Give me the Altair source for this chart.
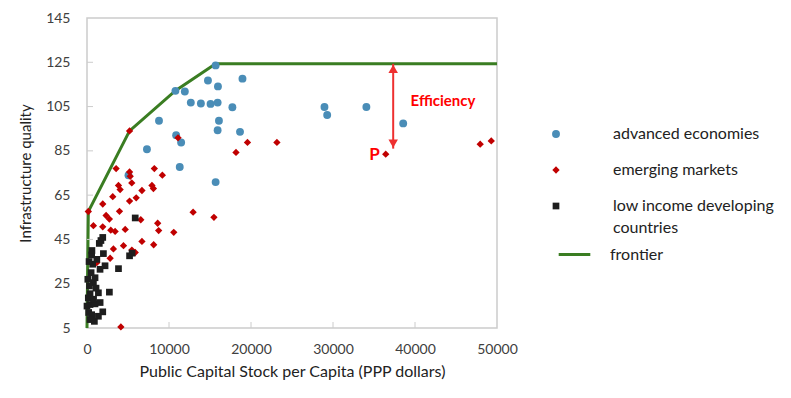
import altair as alt
import pandas as pd

# ---- data ----
adv_x = [15686, 18960, 14750, 15970, 10784, 11930, 12660, 13890, 15070, 15930, 17730, 8780,
         16090, 15930, 18660, 10870, 11480, 7310, 11310, 15686, 5060, 28960, 29290, 34070, 38560]
adv_y = [123.6, 117.6, 116.8, 114.1, 112.1, 111.8, 106.8, 106.4, 106.2, 106.8, 104.7, 98.6,
         98.6, 94.3, 93.6, 92.1, 88.8, 85.7, 77.7, 70.9, 74.0, 104.8, 101.2, 104.8, 97.4]

em_x = [5190, 11100, 19570, 23160, 18170, 36430, 47950, 49300, 3550, 5190, 8210, 9190, 5270,
        5460, 3840, 4040, 6700, 7920, 8100, 3140, 6000, 5190, 1920, 3960, 12940, 15480, 160,
        2330, 2730, 6560, 8620, 780, 1920, 2900, 3430, 4660, 8740, 10580, 6700, 8130, 3220,
        4450, 5470, 5880, 2820, 1190, 4130]
em_y = [94.0, 90.9, 88.8, 88.8, 84.3, 83.5, 88.0, 89.5, 77.0, 75.5, 77.0, 74.0, 73.5,
        70.5, 69.4, 67.5, 67.1, 69.4, 68.0, 64.3, 63.8, 62.3, 61.0, 57.7, 57.3, 55.0, 57.6,
        55.8, 54.2, 53.9, 52.3, 51.2, 50.7, 49.2, 48.6, 49.5, 49.0, 48.2, 44.1, 42.6, 40.7,
        42.2, 40.2, 39.1, 36.5, 34.5, 5.5]

lic_x = [5880, 1920, 1500, 570, 2000, 5190, 690, 2200, 3840, 1590, 980, 780, 2730, 1390,
         370, 160, 370, 0, 980, 1920, 570, 1390, 370, 5500, 1700, 300, 500, 1200, 200, 800,
         1100, 600, 250, 100, 1600, 900]
lic_y = [54.7, 45.9, 43.2, 38.0, 38.6, 37.6, 33.8, 33.1, 31.8, 31.5, 27.7, 25.5, 21.2, 20.9,
         20.5, 18.6, 15.6, 14.9, 15.9, 12.3, 11.0, 10.3, 8.8, 38.8, 44.5, 24.0, 30.0, 36.0,
         12.0, 18.0, 23.0, 40.0, 35.0, 27.0, 16.5, 8.0]

frontier_x = [0, 160, 5190, 10784, 15686, 50000]
frontier_y = [5, 57.6, 94.0, 112.2, 124.3, 124.3]

arrow_x = [37340]
arrow_top = [124.3]
arrow_bottom = [86.0]

x_ticks = [0, 10000, 20000, 30000, 40000, 50000]
y_ticks = [5, 25, 45, 65, 85, 105, 125, 145]

groups = ["advanced economies", "emerging markets", "low income developing countries"]
colors = ["#4a8db7", "#c00000", "#1e1e1e"]
shapes = ["circle", "diamond", "square"]
sizes = [62, 45, 55]

FONT = "Lato"

pts = pd.DataFrame({
    "x": adv_x + em_x + lic_x,
    "y": adv_y + em_y + lic_y,
    "group": [groups[0]] * len(adv_x) + [groups[1]] * len(em_x) + [groups[2]] * len(lic_x),
})
front = pd.DataFrame({"x": frontier_x, "y": frontier_y, "series": ["frontier"] * len(frontier_x)})
arrow = pd.DataFrame({"x": arrow_x, "top": arrow_top, "bottom": arrow_bottom})

xs = alt.Scale(domain=[0, 50000], nice=False)
ys = alt.Scale(domain=[5, 145], nice=False)

xaxis = alt.Axis(values=x_ticks, format="d", title="Public Capital Stock per Capita (PPP dollars)",
                 grid=False, domain=False, ticks=False, labelFlush=False,
                 labelFont=FONT, labelFontSize=14, labelColor="#404040", labelPadding=14,
                 titleFont=FONT, titleFontSize=16, titleFontWeight="normal", titleColor="#222222",
                 titlePadding=7)
yaxis = alt.Axis(values=y_ticks, title="Infrastructure quality",
                 grid=False, domain=False, ticks=False, labelFlush=False,
                 labelFont=FONT, labelFontSize=14, labelColor="#404040", labelPadding=17,
                 titleFont=FONT, titleFontSize=15, titleFontWeight="normal", titleColor="#222222",
                 titlePadding=12)

leg = alt.Legend(title=None, orient="none", legendX=461, legendY=108,
                 labelExpr="datum.label == 'low income developing countries' ? ['low income developing', 'countries'] : datum.label",
                 labelFont=FONT, labelFontSize=16, labelColor="#222222", rowPadding=20,
                 labelOffset=49, symbolOpacity=1, labelLimit=300)
leg2 = alt.Legend(title=None, orient="none", legendX=470, legendY=219,
                  labelFont=FONT, labelFontSize=16, labelColor="#222222",
                  labelOffset=18, symbolSize=1000, symbolStrokeWidth=3, symbolType="stroke",
                  labelLimit=300)

line = alt.Chart(front).mark_line(strokeWidth=3).encode(
    x=alt.X("x:Q", scale=xs, axis=xaxis),
    y=alt.Y("y:Q", scale=ys, axis=yaxis),
    stroke=alt.Stroke("series:N", scale=alt.Scale(domain=["frontier"], range=["#3a7d22"]), legend=leg2),
)

points = alt.Chart(pts).mark_point(filled=True, opacity=1, strokeWidth=0).encode(
    x=alt.X("x:Q", scale=xs),
    y=alt.Y("y:Q", scale=ys),
    fill=alt.Fill("group:N", scale=alt.Scale(domain=groups, range=colors), legend=leg),
    shape=alt.Shape("group:N", scale=alt.Scale(domain=groups, range=shapes), legend=leg),
    size=alt.Size("group:N", scale=alt.Scale(domain=groups, range=sizes), legend=leg),
)

arrow_line = alt.Chart(arrow).mark_rule(color="#ee3030", strokeWidth=2).encode(
    x=alt.X("x:Q", scale=xs), y=alt.Y("top:Q", scale=ys), y2="bottom:Q")
arrow_up = alt.Chart(arrow).mark_point(shape="triangle-up", filled=True, color="#ee3030",
                                       opacity=1, size=90, yOffset=5).encode(
    x=alt.X("x:Q", scale=xs), y=alt.Y("top:Q", scale=ys))
arrow_down = alt.Chart(arrow).mark_point(shape="triangle-down", filled=True, color="#ee3030",
                                         opacity=1, size=90, yOffset=-5).encode(
    x=alt.X("x:Q", scale=xs), y=alt.Y("bottom:Q", scale=ys))

labels = pd.DataFrame({"x": [39460, 35050], "y": [107.3, 83.2], "t": ["Efficiency", "P"]})
eff = alt.Chart(labels.iloc[[0]]).mark_text(align="left", baseline="middle", font=FONT,
                                            fontWeight="bold", fontSize=15, color="#ff0000").encode(
    x=alt.X("x:Q", scale=xs), y=alt.Y("y:Q", scale=ys), text="t:N")
ptxt = alt.Chart(labels.iloc[[1]]).mark_text(align="center", baseline="middle", font=FONT,
                                             fontWeight="bold", fontSize=17, color="#ff0000").encode(
    x=alt.X("x:Q", scale=xs), y=alt.Y("y:Q", scale=ys), text="t:N")

ytk = pd.DataFrame({"v": y_ticks[1:-1]})
xtk = pd.DataFrame({"v": x_ticks[1:-1]})
ytick_rules = alt.Chart(ytk).mark_rule(color="#cccccc", strokeWidth=1).encode(
    y=alt.Y("v:Q", scale=ys), x=alt.value(0), x2=alt.value(6))
xtick_rules = alt.Chart(xtk).mark_rule(color="#cccccc", strokeWidth=1).encode(
    x=alt.X("v:Q", scale=xs), y=alt.value(310), y2=alt.value(304))

chart = alt.layer(line, ytick_rules, xtick_rules, points, arrow_line, arrow_up, arrow_down, eff, ptxt).properties(
    width=410, height=310, padding={"left": 10, "top": 3, "right": 5, "bottom": 5}
).configure(background="white", style={"guide-label": {"lineHeight": 22}}).configure_view(
    stroke="#cccccc", strokeWidth=1.5)

chart.save("out.html", embed_options={"renderer": "svg", "actions": False})
